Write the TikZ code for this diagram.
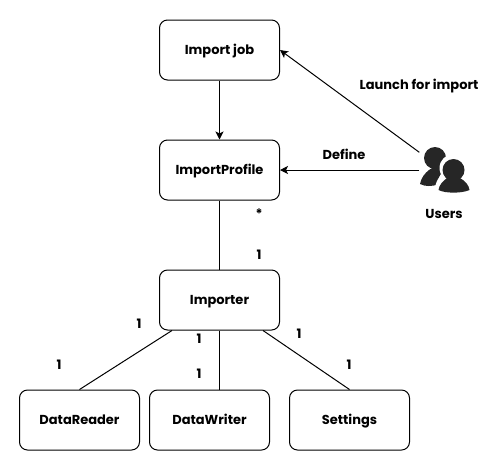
\documentclass[tikz,border=0pt]{standalone}
\usepackage{fontspec}
\setmainfont{Poppins}
\usetikzlibrary{arrows.meta,calc}
\tikzset{
  umlbox/.style={draw=black,line width=1pt,rounded corners=8pt,minimum width=120pt,minimum height=60pt,inner sep=0pt,text height=9pt,text depth=0pt,font=\fontsize{13pt}{14pt}\selectfont\bfseries},
  lbl/.style={inner sep=0pt,text height=9pt,text depth=0pt,font=\fontsize{13pt}{14pt}\selectfont\bfseries},
  link/.style={draw=black,line width=1pt},
  arrow/.style={link,-{Stealth[length=8pt,width=8pt,inset=2pt]}},
  iconfill/.style={fill=black!85,draw=none}
}
\begin{document}
\begin{tikzpicture}[x=1pt,y=-1pt]
\useasboundingbox (0,0) rectangle (497,464);
\node[umlbox] (job) at (219.5,50) {Import job};
\node[umlbox] (profile) at (219.5,170) {ImportProfile};
\node[umlbox] (importer) at (219.5,300) {Importer};
\node[umlbox] (reader) at (79.5,420) {DataReader};
\node[umlbox] (writer) at (209.5,420) {DataWriter};
\node[umlbox] (settings) at (349.5,420) {Settings};
\node[minimum width=51pt,minimum height=35pt,inner sep=0pt] (users) at (445,170) {};
% icon: back person
\fill[iconfill] (435,158) circle (11);
\fill[iconfill] (429,170) .. controls (425,173) and (421,178) .. (420,184)
  .. controls (426,187) and (431,186) .. (437,185)
  .. controls (438,178) and (441,172) .. (445,169)
  .. controls (441,166) and (433,166) .. (429,170) -- cycle;
% white halo and front person
\fill[white] (453.5,168) circle (14);
\fill[white] (434,192) .. controls (436,177) and (443,172) .. (450,170) -- (470,185) -- (450,195) -- cycle;
\fill[iconfill] (453.5,170) circle (11);
\fill[iconfill] (447,178) .. controls (443,181) and (439,185) .. (438.5,190)
  .. controls (445,193.5) and (462,193.5) .. (469.5,190)
  .. controls (469,185) and (465,181) .. (460,178) -- cycle;
\draw[arrow] (job) -- (profile);
\draw[arrow] (users.north west) -- (job.east);
\draw[arrow] (users.west) -- (profile.east);
\draw[link] (profile) -- (importer);
\draw[link] ($(importer.south)+(-47.5,0)$) -- (reader.north);
\draw[link] (importer.south) -- (importer.south |- writer.north);
\draw[link] ($(importer.south)+(43.5,0)$) -- (settings.north);
\node[lbl] (l1) at (419,85) {Launch for import};
\node[lbl] (l2) at (344,155) {Define};
\node[lbl] (l3) at (444,214) {Users};
\node[lbl] (s1) at (259,214) {*};
\node[lbl] (n1) at (259,255) {1};
\node[lbl] (n2) at (139,324) {1};
\node[lbl] (n3) at (59,365) {1};
\node[lbl] (n4) at (199,339) {1};
\node[lbl] (n5) at (199,374) {1};
\node[lbl] (n6) at (299,334) {1};
\node[lbl] (n7) at (349,365) {1};
\end{tikzpicture}
\end{document}
